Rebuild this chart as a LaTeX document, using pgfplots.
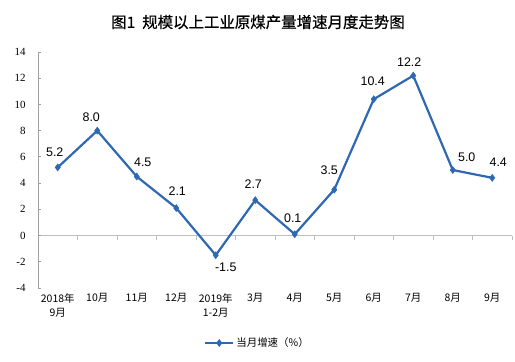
\documentclass[border=0pt]{standalone}
\usepackage{fontspec}
\setmainfont{Liberation Sans}
\newfontfamily\cjk{Noto Sans CJK SC}
\newfontfamily\cjkb[FakeBold=0.7]{Noto Sans CJK SC}
\newfontfamily\serif{Liberation Serif}
\usepackage{pgfplots}
\usepackage{pgfplotstable}
\pgfplotsset{compat=1.18}
\definecolor{lineblue}{RGB}{46,104,178}
\definecolor{axgray}{RGB}{160,160,160}
\definecolor{zerogray}{RGB}{191,191,191}
\pgfplotstableread{
x y dx dy
0 5.2 -3 15
1 8.0 -6 13
2 4.5 6 14
3 2.1 1 17
4 -1.5 10 -12
5 2.7 -2 16
6 0.1 -2 16
7 3.5 -5 19
8 10.4 -1 18
9 12.2 -4 13
10 5.0 14 13
11 4.4 6 16
}\datatable
\begin{document}
\begin{tikzpicture}
\useasboundingbox (0,0) rectangle (515bp,362bp);
\node[font=\cjkb\fontsize{15.5}{18}\selectfont] at (258bp,340bp) {图1\hspace{7bp}规模以上工业原煤产量增速月度走势图};
% zero line with category boundary ticks
\begin{axis}[
  at={(38bp,74bp)}, anchor=south west,
  scale only axis, width=474bp, height=236bp,
  xmin=-0.5, xmax=11.5, ymin=-4, ymax=14,
  axis x line*=middle, axis y line=none,
  x axis line style={draw=zerogray, line width=0.8bp},
  xtick={-0.5,0.5,...,11.5}, xticklabels={},
  major tick length=4bp, tick align=outside,
  xtick style={draw=zerogray, line width=0.8bp},
]
\end{axis}
\begin{axis}[
  at={(38bp,74bp)}, anchor=south west,
  scale only axis, width=474bp, height=236bp,
  xmin=-0.5, xmax=11.5, ymin=-4, ymax=14,
  axis y line*=left, axis x line*=bottom,
  x axis line style={draw=none},
  y axis line style={draw=axgray, line width=0.8bp},
  ytick={-4,-2,...,14},
  ytick style={draw=axgray, line width=0.8bp},
  tick align=inside, major tick length=3bp,
  xtick={0,...,11},
  xtick style={draw=none},
  xticklabels={{2018年\\9月},{10月},{11月},{12月},{2019年\\1-2月},{3月},{4月},{5月},{6月},{7月},{8月},{9月}},
  xticklabel style={font=\cjk\fontsize{10.5}{14}\selectfont, align=center, yshift=-2bp},
  yticklabel style={font=\serif\fontsize{11}{12}\selectfont, xshift=-9bp},
  /pgf/number format/assume math mode=true,
  clip=false,
  legend style={at={(0.463,-0.233)}, anchor=center, draw=none, fill=none,
    font=\cjk\fontsize{10.5}{12}\selectfont, inner sep=1bp},
  legend image code/.code={\draw[mark repeat=2,mark phase=2,#1] plot coordinates {(0bp,0bp) (14bp,0bp) (28bp,0bp)};},
]
\addplot[color=lineblue, line width=2.2bp, mark=diamond*, mark size=3.5bp,
  mark options={fill=lineblue, line width=0.5bp},
  nodes near coords, point meta=explicit,
  visualization depends on={\thisrow{dx} \as \dx},
  visualization depends on={\thisrow{dy} \as \dy},
  every node near coord/.append style={anchor=center, xshift=\dx bp, yshift=\dy bp, text=black,
    font=\fontsize{12.5}{14}\selectfont, /pgf/number format/.cd, fixed, fixed zerofill, precision=1},
] table[x=x, y=y, meta=y] {\datatable};
\addlegendentry{当月增速（\%）}
\end{axis}
\end{tikzpicture}
\end{document}
